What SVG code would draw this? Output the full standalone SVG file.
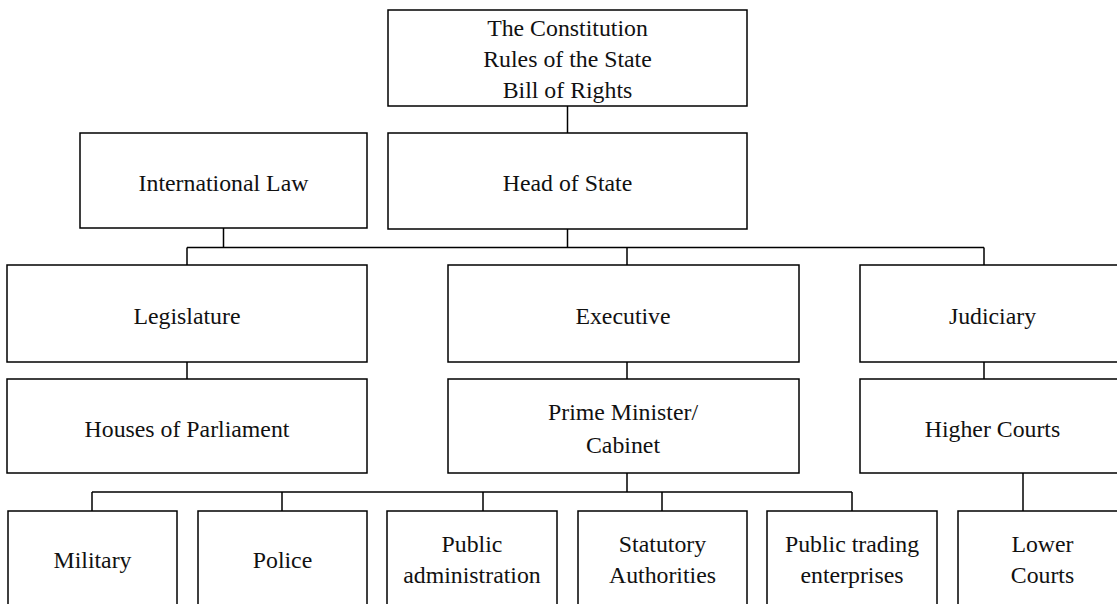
<svg xmlns="http://www.w3.org/2000/svg" width="1117" height="604" viewBox="0 0 1117 604">
<style>
rect{fill:#fff;stroke:#000;stroke-width:1.5}
text{font-family:"Liberation Serif","Times New Roman",serif;font-size:23.8px;fill:#111;text-anchor:middle}
.c{stroke:#000;stroke-width:1.5;fill:none}
</style>
<rect x="0" y="0" width="1117" height="604" style="stroke:none"/>
<g id="connectors" class="c">
<path d="M567.5,106 V133"/>
<path d="M223.5,228 V247.5 M567.5,229 V247.5 M187,247.5 H984 M187,247.5 V265 M627,247.5 V265 M984,247.5 V265"/>
<path d="M187,362 V379 M627,362 V379 M984,362 V379"/>
<path d="M627,473 V492 M92,492 H852 M92,492 V511 M282,492 V511 M483,492 V511 M662,492 V511 M852,492 V511"/>
<path d="M1023,473 V511"/>
</g>
<g id="constitution"><rect x="388" y="10" width="359" height="96"/><text x="567.5" y="36">The Constitution</text><text x="567.5" y="67">Rules of the State</text><text x="567.5" y="98">Bill of Rights</text></g>
<g id="intlaw"><rect x="80" y="133" width="287" height="95"/><text x="223.5" y="190.5">International Law</text></g>
<g id="headofstate"><rect x="388" y="133" width="359" height="96"/><text x="567.5" y="190.5">Head of State</text></g>
<g id="legislature"><rect x="7" y="265" width="360" height="97"/><text x="187" y="324">Legislature</text></g>
<g id="executive"><rect x="448" y="265" width="351" height="97"/><text x="623" y="324">Executive</text></g>
<g id="judiciary"><rect x="860" y="265" width="265" height="97"/><text x="992.5" y="324">Judiciary</text></g>
<g id="parliament"><rect x="7" y="379" width="360" height="94"/><text x="187" y="437">Houses of Parliament</text></g>
<g id="pm"><rect x="448" y="379" width="351" height="94"/><text x="623" y="420">Prime Minister/</text><text x="623" y="453">Cabinet</text></g>
<g id="highercourts"><rect x="860" y="379" width="265" height="94"/><text x="992.5" y="437">Higher Courts</text></g>
<g id="military"><rect x="8" y="511" width="169" height="110"/><text x="92.5" y="568">Military</text></g>
<g id="police"><rect x="198" y="511" width="169" height="110"/><text x="282.5" y="568">Police</text></g>
<g id="publicadmin"><rect x="387" y="511" width="170" height="110"/><text x="472" y="552">Public</text><text x="472" y="583">administration</text></g>
<g id="statutory"><rect x="578" y="511" width="169" height="110"/><text x="662.5" y="552">Statutory</text><text x="662.5" y="583">Authorities</text></g>
<g id="publictrading"><rect x="767" y="511" width="170" height="110"/><text x="852" y="552">Public trading</text><text x="852" y="583">enterprises</text></g>
<g id="lowercourts"><rect x="958" y="511" width="169" height="110"/><text x="1042.5" y="552">Lower</text><text x="1042.5" y="583">Courts</text></g>
</svg>
